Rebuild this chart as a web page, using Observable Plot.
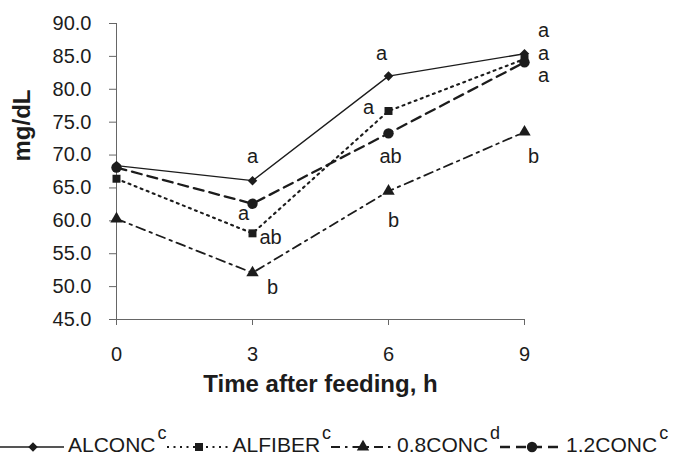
<!DOCTYPE html>
<html><head><meta charset="utf-8">
<script src="https://cdn.jsdelivr.net/npm/d3@7"></script>
<script src="https://cdn.jsdelivr.net/npm/@observablehq/plot@0.6"></script>
<style>
body{margin:0;background:#fff;font-family:"Liberation Sans",Arial,Helvetica,sans-serif;color:#1a1a1a;}
#wrap{position:relative;width:673px;height:464px;overflow:hidden;background:#fff}
#legend{position:absolute;left:0;top:430px;width:673px;height:30px;display:flex;align-items:center;font-size:21px;white-space:nowrap}
.item{display:flex;align-items:center}
.item svg{display:block}
.sup{font-size:18px;position:relative;top:-12px;margin-left:2px}
</style></head><body><div id="wrap"><div id="chart"></div><div id="legend"></div></div>
<script>
// ---- data ----
const times = [0, 3, 6, 9];
const seriesNames = ["ALCONC", "ALFIBER", "0.8CONC", "1.2CONC"];
const seriesSup = ["c", "c", "d", "c"];
const alconc  = [68.4, 66.1, 82.0, 85.4];
const alfiber = [66.4, 58.1, 76.7, 84.6];
const conc08  = [60.3, 52.1, 64.5, 73.5];
const conc12  = [68.1, 62.6, 73.3, 84.1];
const alconcLetters  = ["", "a", "a", "a"];
const alfiberLetters = ["", "ab", "a", "a"];
const conc08Letters  = ["", "b", "b", "b"];
const conc12Letters  = ["", "a", "ab", "a"];
const yTicks = [45, 50, 55, 60, 65, 70, 75, 80, 85, 90];
const xTicks = [0, 3, 6, 9];

// ---- build table ----
const valuesBySeries = [alconc, alfiber, conc08, conc12];
const lettersBySeries = [alconcLetters, alfiberLetters, conc08Letters, conc12Letters];
const rows = [];
seriesNames.forEach((s, si) => times.forEach((t, i) => rows.push({series: s, time: t, value: valuesBySeries[si][i], letter: lettersBySeries[si][i], idx: i})));

// ---- styles ----
const ink = "#1c1c1c";
const styles = {
  "ALCONC":  {symbol: "diamond2", dash: null,        width: 1.3, r: 4.3, d3sym: d3.symbolDiamond2},
  "ALFIBER": {symbol: "square",   dash: "2,4.5",     width: 2.1, r: 4.5, d3sym: d3.symbolSquare},
  "0.8CONC": {symbol: "triangle", dash: "9,5,2.5,5", width: 1.8, r: 4.6, d3sym: d3.symbolTriangle},
  "1.2CONC": {symbol: "circle",   dash: "10,6",      width: 2.3, r: 5.2, d3sym: d3.symbolCircle}
};
// label offsets (px) for each series at each time index
const placements = {
  "ALCONC":  [null, [0, -24], [-7, -23], [19, -23]],
  "ALFIBER": [null, [18, 4],  [-20, -3], [19, -5]],
  "0.8CONC": [null, [20, 15], [5, 29],   [9, 25]],
  "1.2CONC": [null, [-9, 10], [2, 23],   [19, 13]]
};

const marks = [
  Plot.ruleX([0], {stroke: "#666", strokeWidth: 1}),
  Plot.ruleY([45], {stroke: "#666", strokeWidth: 1}),
  Plot.axisY(yTicks, {tickSize: 7, tickPadding: 18, tickFormat: d => d.toFixed(1), fontSize: 20, stroke: "#666", label: null}),
  Plot.axisX(xTicks, {tickSize: 6, tickPadding: 21, fontSize: 20, stroke: "#666", label: null}),
  Plot.text(["mg/dL"], {frameAnchor: "left", rotate: -90, dx: -94, dy: -10, fontSize: 24, fontWeight: "bold", fill: ink}),
  Plot.text(["Time after feeding, h"], {frameAnchor: "bottom", dy: 72, fontSize: 24, fontWeight: "bold", fill: ink})
];
seriesNames.forEach(s => {
  const st = styles[s];
  const data = rows.filter(d => d.series === s);
  marks.push(Plot.line(data, {x: "time", y: "value", stroke: ink, strokeWidth: st.width, strokeDasharray: st.dash}));
  marks.push(Plot.dot(data, {x: "time", y: "value", symbol: () => st.symbol, r: st.r, fill: ink, stroke: "none"}));
  data.filter(d => d.letter).forEach(d => {
    const [dx, dy] = placements[s][d.idx];
    marks.push(Plot.text([d], {x: "time", y: "value", text: "letter", dx, dy, fontSize: 20, fill: ink}));
  });
});

const chart = Plot.plot({
  width: 673, height: 420,
  marginLeft: 116, marginRight: 149, marginTop: 23, marginBottom: 101,
  x: {domain: [0, 9]},
  y: {domain: [45, 90]},
  style: {background: "#fff", color: ink, fontFamily: '"Liberation Sans", Arial, sans-serif'},
  marks
});
document.getElementById("chart").appendChild(chart);

// ---- legend ----
const legend = d3.select("#legend");
const sampleW = [66, 64, 64, 64];
seriesNames.forEach((s, si) => {
  const st = styles[s];
  const item = legend.append("div").attr("class", "item");
  const w = sampleW[si];
  const svg = item.append("svg").attr("width", w).attr("height", 20);
  svg.append("line").attr("x1", 0).attr("x2", w - 2).attr("y1", 12).attr("y2", 12)
    .attr("stroke", ink).attr("stroke-width", st.width).attr("stroke-dasharray", st.dash);
  svg.append("path").attr("transform", `translate(${w / 2},12)`)
    .attr("d", d3.symbol(st.d3sym, Math.PI * st.r * st.r)()).attr("fill", ink);
  item.append("span").style("margin-left", "2px").text(s);
  item.append("span").attr("class", "sup").text(seriesSup[si]);
});
</script></body></html>
